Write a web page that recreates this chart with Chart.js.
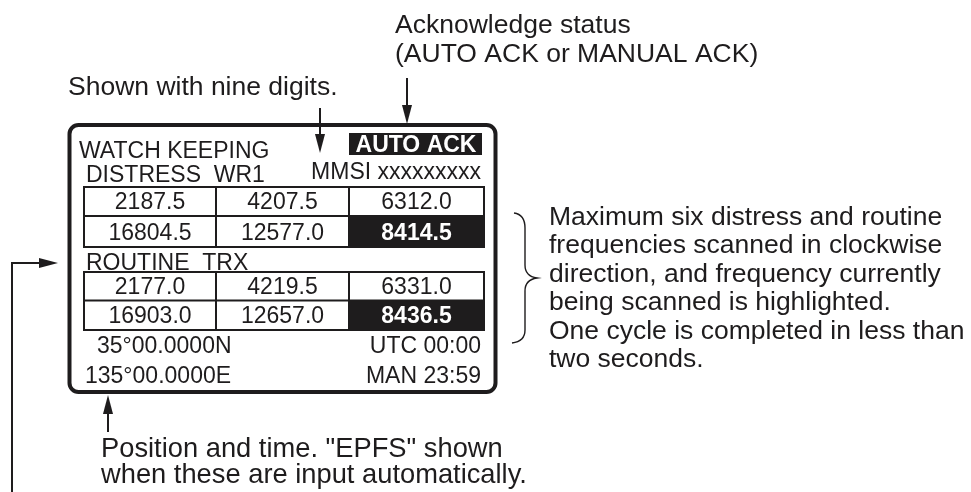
<!DOCTYPE html>
<html><head><meta charset="utf-8">
<script src="https://cdn.jsdelivr.net/npm/chart.js@4/dist/chart.umd.min.js"></script>
<style>html,body{margin:0;padding:0;background:#fff;overflow:hidden}#wrap{width:971px;height:492px}</style>
</head><body><div id="wrap"><canvas id="c" width="971" height="492"></canvas></div>
<script>
// ---- content ----
const titleText = 'WATCH KEEPING';
const ackText = 'AUTO ACK';
const mmsiText = 'MMSI xxxxxxxxx';
const distressLabel = 'DISTRESS  WR1';
const routineLabel = 'ROUTINE  TRX';
const distressFreqs = [2187.5, 4207.5, 6312.0, 16804.5, 12577.0, 8414.5];
const routineFreqs = [2177.0, 4219.5, 6331.0, 16903.0, 12657.0, 8436.5];
const highlightedCell = 5;
const positionLines = ['35°00.0000N', '135°00.0000E'];
const timeLines = ['UTC 00:00', 'MAN 23:59'];
const noteMmsi = ['Shown with nine digits.'];
const noteAck = ['Acknowledge status', '(AUTO ACK or MANUAL ACK)'];
const noteScan = ['Maximum six distress and routine', 'frequencies scanned in clockwise',
  'direction, and frequency currently', 'being scanned is highlighted.',
  'One cycle is completed in less than', 'two seconds.'];
const notePos = ['Position and time. "EPFS" shown', 'when these are input automatically.'];

const INK = '#1e1c1d';
const FONT = '"Liberation Sans", Arial, Helvetica, sans-serif';

const diagram = {
  id: 'diagram',
  afterDraw(chart) {
    const ctx = chart.ctx;
    const sx = chart.scales.x, sy = chart.scales.y;
    const X = v => sx.getPixelForValue(v);
    const Y = v => sy.getPixelForValue(v);
    ctx.save();
    ctx.fillStyle = '#fff';
    ctx.fillRect(0, 0, chart.width, chart.height);
    ctx.strokeStyle = INK; ctx.fillStyle = INK;
    ctx.lineCap = 'butt'; ctx.lineJoin = 'miter';

    function text(s, x, y, size, align, bold, color) {
      ctx.font = (bold ? 'bold ' : '') + size + 'px ' + FONT;
      ctx.textAlign = align || 'left';
      ctx.textBaseline = 'alphabetic';
      ctx.fillStyle = color || INK;
      ctx.fillText(s, X(x), Y(y));
    }
    function line(pts, w) {
      ctx.lineWidth = w; ctx.beginPath();
      pts.forEach((p, i) => i ? ctx.lineTo(X(p[0]), Y(p[1])) : ctx.moveTo(X(p[0]), Y(p[1])));
      ctx.stroke();
    }
    function head(tx, ty, dir) { // arrowhead with tip at (tx,ty)
      ctx.fillStyle = INK; ctx.beginPath();
      if (dir === 'down') { ctx.moveTo(X(tx), Y(ty)); ctx.lineTo(X(tx - 5), Y(ty - 19)); ctx.lineTo(X(tx + 5), Y(ty - 19)); }
      if (dir === 'up') { ctx.moveTo(X(tx), Y(ty)); ctx.lineTo(X(tx - 5), Y(ty + 19)); ctx.lineTo(X(tx + 5), Y(ty + 19)); }
      if (dir === 'right') { ctx.moveTo(X(tx), Y(ty)); ctx.lineTo(X(tx - 19), Y(ty - 5)); ctx.lineTo(X(tx - 19), Y(ty + 5)); }
      ctx.closePath(); ctx.fill();
    }

    // outer rounded frame
    ctx.lineWidth = 4; ctx.strokeStyle = INK;
    ctx.beginPath();
    ctx.roundRect(X(69.5), Y(125), X(495.5) - X(69.5), Y(392) - Y(125), 9);
    ctx.stroke();

    // header texts
    text(titleText, 79, 158, 23);
    ctx.fillStyle = INK;
    ctx.fillRect(X(349), Y(133), X(482) - X(349), Y(155) - Y(133));
    text(ackText, 416, 152, 23, 'center', true, '#fff');
    text(mmsiText, 481, 179, 23, 'right');
    text(distressLabel, 86, 182, 23);
    text(routineLabel, 86, 270, 23);

    // frequency tables
    const cols = [84, 216, 349, 484];
    function table(vals, rows) {
      const hr = Math.floor(highlightedCell / 3), hc = highlightedCell % 3;
      ctx.fillStyle = INK;
      ctx.fillRect(X(cols[hc]), Y(rows[hr]), X(cols[hc + 1]) - X(cols[hc]), Y(rows[hr + 1]) - Y(rows[hr]));
      ctx.strokeStyle = INK;
      rows.forEach(r => line([[cols[0], r], [cols[3], r]], 2));
      cols.forEach(c => line([[c, rows[0] - 1], [c, rows[2] + 1]], 2));
      vals.forEach((v, i) => {
        const r = Math.floor(i / 3), c = i % 3;
        const cx = (cols[c] + cols[c + 1]) / 2;
        const hl = i === highlightedCell;
        text(v.toFixed(1), cx, rows[r + 1] - 7, 23, 'center', hl, hl ? '#fff' : INK);
      });
    }
    table(distressFreqs, [187, 216, 247]);
    table(routineFreqs, [272, 300.5, 330]);

    // position & time
    text(positionLines[0], 97, 353, 23);
    text(positionLines[1], 85, 383, 23);
    text(timeLines[0], 481, 353, 23, 'right');
    text(timeLines[1], 481, 383, 23, 'right');

    // annotations
    noteMmsi.forEach((s, i) => text(s, 68, 95 + i * 28, 26.5));
    noteAck.forEach((s, i) => text(s, 395, 33 + i * 28.5, 26.5));
    noteScan.forEach((s, i) => text(s, 549, 225 + i * 28.4, 26.5));
    notePos.forEach((s, i) => text(s, 101, 457 + i * 26, 27.3));

    // arrows
    ctx.strokeStyle = INK;
    line([[320, 108], [320, 140]], 2); head(320, 153, 'down');
    line([[407, 78], [407, 108]], 2); head(407, 124, 'down');
    line([[108, 432], [108, 410]], 2); head(108, 395, 'up');
    line([[12, 492], [12, 263], [42, 263]], 2); head(58, 263, 'right');

    // brace
    ctx.lineWidth = 1.4; ctx.beginPath();
    ctx.moveTo(X(514), Y(213));
    ctx.bezierCurveTo(X(521), Y(214), X(525), Y(219), X(525), Y(228));
    ctx.lineTo(X(525), Y(265));
    ctx.bezierCurveTo(X(525), Y(273), X(530), Y(277), X(537), Y(278));
    ctx.bezierCurveTo(X(530), Y(279), X(525), Y(283), X(525), Y(291));
    ctx.lineTo(X(525), Y(330));
    ctx.bezierCurveTo(X(525), Y(338), X(520), Y(342), X(512), Y(343));
    ctx.stroke();
    ctx.restore();
  }
};

new Chart(document.getElementById('c'), {
  type: 'scatter',
  data: { datasets: [{ data: [], pointRadius: 0 }] },
  options: {
    responsive: false, animation: false, events: [],
    layout: { padding: 0 },
    plugins: { legend: { display: false }, tooltip: { enabled: false }, title: { display: false } },
    scales: {
      x: { type: 'linear', min: 0, max: 971, display: false },
      y: { type: 'linear', min: 0, max: 492, reverse: true, display: false }
    }
  },
  plugins: [diagram]
});
</script></body></html>
